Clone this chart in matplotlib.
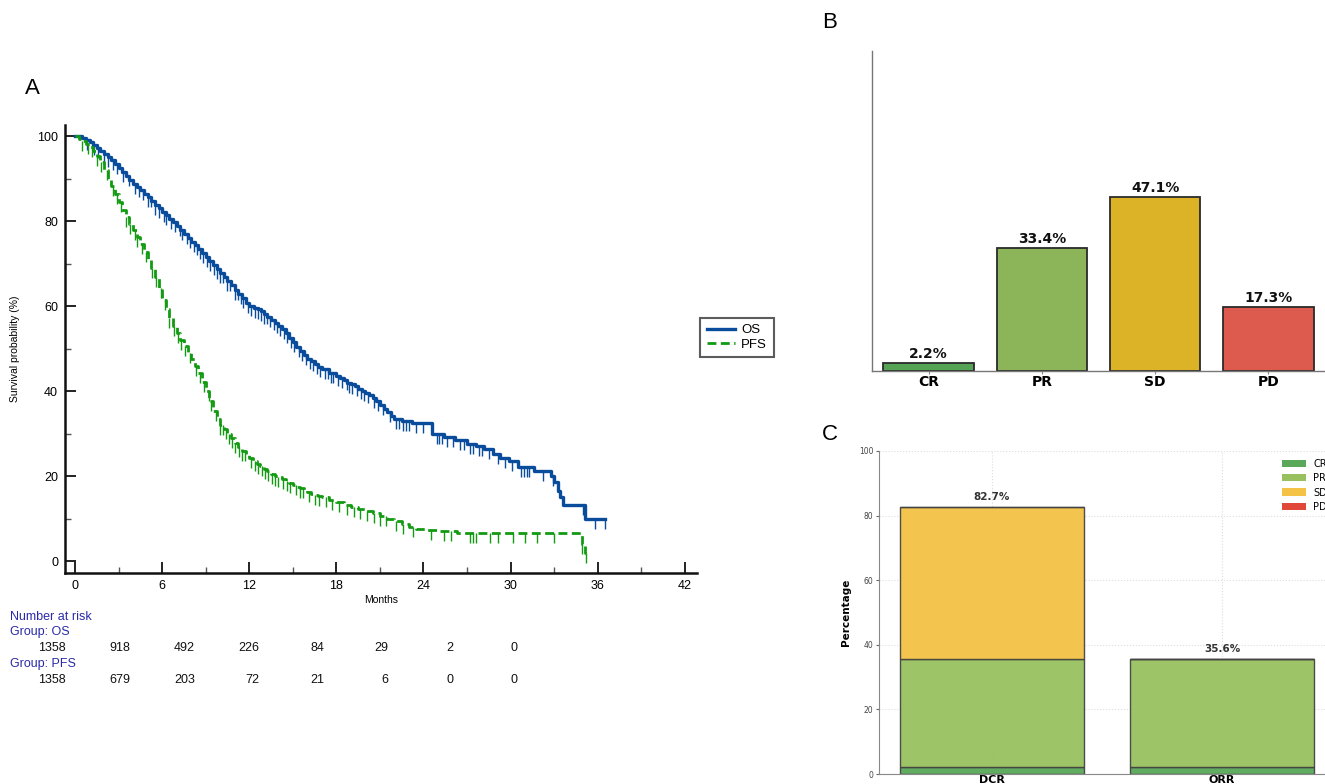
import numpy as np
import matplotlib
matplotlib.use("Agg")
import matplotlib.pyplot as plt
from matplotlib.patches import Patch

# ---- panel A: Kaplan-Meier curves ----
OS_TIME = [0, 0.25, 0.5, 0.75, 1.0, 1.25, 1.5, 1.75, 2.0, 2.25, 2.5, 2.75,
           3.0, 3.25, 3.5, 3.75, 4.0, 4.25, 4.5, 4.75, 5.0, 5.25, 5.5, 5.75,
           6.0, 6.25, 6.5, 6.75, 7.0, 7.25, 7.5, 7.75, 8.0, 8.25, 8.5, 8.75,
           9.0, 9.25, 9.5, 9.75, 10.0, 10.25, 10.5, 10.75, 11.0, 11.25, 11.5,
           11.75, 12.0, 12.3, 12.6, 12.8, 13.0, 13.25, 13.5, 13.75, 14.0,
           14.25, 14.5, 14.75, 15.0, 15.25, 15.5, 15.75, 16.0, 16.25, 16.5,
           16.75, 17.0, 17.5, 18.0, 18.25, 18.5, 18.75, 19.0, 19.25, 19.5,
           19.75, 20.0, 20.25, 20.5, 20.75, 21.0, 21.25, 21.5, 21.75, 22.0,
           22.5, 23.2, 24.6, 25.4, 26.2, 27.0, 27.6, 28.2, 28.8, 29.3, 29.9,
           30.5, 31.6, 32.8, 33.0, 33.3, 33.4, 33.6, 35.1, 36.5]
OS_SURV = [100, 99.9, 99.6, 99.1, 98.5, 97.9, 97.2, 96.5, 95.8, 95.1, 94.3,
           93.5, 92.6, 91.5, 90.5, 89.6, 88.8, 88.0, 87.2, 86.4, 85.6, 84.7,
           83.8, 83.0, 82.2, 81.4, 80.5, 79.7, 78.8, 77.8, 76.9, 76.0, 75.1,
           74.3, 73.5, 72.6, 71.6, 70.6, 69.6, 68.7, 67.8, 66.9, 66.0, 64.9,
           63.8, 62.8, 61.8, 60.8, 60.0, 59.6, 59.3, 58.8, 58.2, 57.5, 56.8,
           56.1, 55.4, 54.5, 53.6, 52.6, 51.5, 50.4, 49.4, 48.5, 47.6, 47.0,
           46.4, 45.7, 45.1, 44.2, 43.5, 43.0, 42.5, 42.0, 41.6, 41.1, 40.6,
           40.1, 39.6, 39.0, 38.3, 37.6, 36.8, 35.9, 35.0, 34.2, 33.5, 33.0,
           32.4, 29.8, 29.2, 28.5, 27.6, 27.0, 26.3, 25.2, 24.3, 23.5, 22.2,
           21.3, 20.0, 18.5, 16.5, 15.0, 13.2, 10.0, 10.0]
OS_CENSOR = [0.8, 1.3, 1.6, 2.0, 2.3, 2.6, 2.9, 3.3, 3.7, 4.1, 4.4, 4.7, 5.0,
             5.2, 5.5, 5.8, 6.1, 6.3, 6.6, 6.9, 7.2, 7.4, 7.7, 7.9, 8.2, 8.4,
             8.6, 8.8, 9.1, 9.3, 9.6, 9.8, 10.0, 10.2, 10.5, 10.7, 11.0, 11.2,
             11.4, 11.6, 11.9, 12.1, 12.4, 12.6, 12.8, 13.0, 13.2, 13.4, 13.7,
             13.9, 14.1, 14.4, 14.6, 14.9, 15.1, 15.4, 15.6, 15.9, 16.2, 16.4,
             16.7, 16.9, 17.2, 17.4, 17.6, 17.8, 18.1, 18.4, 18.7, 18.9, 19.1,
             19.4, 19.7, 19.9, 20.2, 20.6, 20.9, 21.2, 21.7, 22.1, 22.3, 22.6,
             22.8, 23.0, 23.5, 24.0, 24.9, 25.1, 25.3, 25.6, 26.0, 26.5, 26.8,
             27.2, 27.4, 27.8, 28.0, 28.5, 29.1, 29.6, 30.1, 30.7, 30.9, 31.1,
             31.3, 32.2, 32.9, 35.0, 35.8, 36.5]

PFS_TIME = [0, 0.25, 0.5, 0.75, 1.0, 1.25, 1.5, 1.75, 2.0, 2.25, 2.5, 2.75,
            3.0, 3.25, 3.5, 3.75, 4.0, 4.25, 4.5, 4.75, 5.0, 5.25, 5.5, 5.75,
            6.0, 6.25, 6.5, 6.75, 7.0, 7.25, 7.5, 7.75, 8.0, 8.25, 8.5, 8.75,
            9.0, 9.25, 9.5, 9.75, 10.0, 10.25, 10.5, 10.75, 11.0, 11.25, 11.5,
            11.75, 12.0, 12.25, 12.5, 12.75, 13.0, 13.25, 13.5, 13.75, 14.0,
            14.25, 14.5, 14.75, 15.0, 15.25, 15.5, 15.75, 16.0, 16.25, 16.5,
            16.75, 17.0, 17.5, 18.0, 18.5, 19.0, 19.5, 20.0, 20.5, 21.0, 21.5,
            22.0, 22.5, 23.0, 23.5, 24.2, 25.0, 26.3, 34.9, 35.1, 35.2]
PFS_SURV = [100, 99.4, 98.8, 98.2, 97.5, 96.5, 95.2, 93.8, 92.0, 90.0, 88.2,
            86.3, 84.5, 82.7, 81.0, 79.4, 77.8, 76.2, 74.5, 72.8, 71.0, 69.0,
            66.8, 64.2, 61.5, 59.2, 57.2, 55.3, 53.6, 52.0, 50.5, 49.0, 47.5,
            45.9, 44.2, 42.2, 40.0, 37.6, 35.3, 33.4, 32.0, 31.0, 30.0, 28.9,
            27.8, 26.8, 25.8, 25.0, 24.2, 23.5, 22.9, 22.3, 21.7, 21.1, 20.6,
            20.1, 19.7, 19.3, 18.9, 18.4, 18.0, 17.5, 17.1, 16.7, 16.3, 15.9,
            15.6, 15.3, 15.0, 14.4, 13.8, 13.2, 12.7, 12.3, 11.9, 11.3, 10.6,
            10.0, 9.4, 8.7, 8.0, 7.6, 7.2, 7.0, 6.6, 4.0, 2.0, 2.0]
PFS_CENSOR = [0.5, 0.9, 1.2, 1.5, 1.8, 2.2, 2.6, 2.9, 3.2, 3.5, 3.8, 4.1, 4.3,
              4.6, 4.9, 5.3, 5.6, 5.9, 6.2, 6.5, 6.8, 7.1, 7.3, 7.6, 7.9, 8.3,
              8.6, 8.9, 9.2, 9.4, 9.7, 10.0, 10.2, 10.4, 10.6, 10.8, 11.0,
              11.3, 11.5, 11.7, 12.1, 12.4, 12.6, 12.9, 13.1, 13.3, 13.6, 13.8,
              14.0, 14.3, 14.6, 14.8, 15.2, 15.5, 15.7, 16.1, 16.5, 16.8, 17.3,
              17.7, 18.2, 18.7, 19.2, 19.6, 20.1, 20.6, 21.0, 21.4, 22.1, 22.6,
              23.3, 24.5, 25.4, 25.9, 27.2, 27.4, 27.6, 28.6, 29.1, 30.2, 31.0,
              31.8, 33.0, 34.9, 35.2]

RISK_TIMES = [0, 6, 12, 18, 24, 30, 36, 42]
RISK_OS = [1358, 918, 492, 226, 84, 29, 2, 0]
RISK_PFS = [1358, 679, 203, 72, 21, 6, 0, 0]

# ---- panel B: best response ----
RESP_CATS = ["CR", "PR", "SD", "PD"]
RESP_PCT = [2.2, 33.4, 47.1, 17.3]
RESP_COLORS = ["#55a455", "#8cb55a", "#dcb227", "#dd5a4e"]

# ---- panel C: DCR / ORR stacked ----
RATE_CATS = ["DCR", "ORR"]
RATE_CR = [2.2, 2.2]
RATE_PR = [33.4, 33.4]
RATE_SD = [47.1, 0.0]
RATE_PD = [0.0, 0.0]
STACK_COLORS = ["#5aa85a", "#98c15e", "#f4c244", "#e0483a"]

OS_COLOR = "#0a4c9c"
PFS_COLOR = "#139a13"
RISK_BLUE = "#2a2aa8"

W, H = 1325, 784


def step_value(times, surv, t):
    idx = np.searchsorted(times, t, side="right") - 1
    return np.asarray(surv)[idx]


fig = plt.figure(figsize=(W / 100, H / 100), dpi=100)

# ------------------------------------------------------------ panel A
axA = fig.add_axes([65 / W, 1 - 573 / H, 632 / W, 448 / H])
for times, surv, cens, color, ls, lw, lab in [
    (OS_TIME, OS_SURV, OS_CENSOR, OS_COLOR, "-", 2.4, "OS"),
    (PFS_TIME, PFS_SURV, PFS_CENSOR, PFS_COLOR, (0, (3.2, 1.6)), 2.0, "PFS"),
]:
    axA.plot(times, surv, drawstyle="steps-post", color=color, lw=lw,
             linestyle=ls, label=lab)
    axA.plot(cens, step_value(times, surv, cens), linestyle="none",
             marker=3, markersize=7, markeredgewidth=1.0, color=color)

axA.set_xlim(-0.69, 42.84)
axA.set_ylim(-2.8, 102.6)
axA.set_xticks(RISK_TIMES)
axA.set_xticks(np.arange(3, 42, 6), minor=True)
axA.set_yticks(np.arange(0, 101, 20))
axA.set_yticks(np.arange(10, 100, 20), minor=True)
axA.tick_params(which="major", direction="in", length=8, width=1.4,
                labelsize=9, pad=5, color="#222222")
axA.tick_params(which="minor", direction="in", length=4, width=1.0,
                color="#555555")
for s in ["top", "right"]:
    axA.spines[s].set_visible(False)
for s in ["left", "bottom"]:
    axA.spines[s].set_linewidth(1.8)
    axA.spines[s].set_color("#111111")
for lbl in axA.get_xticklabels() + axA.get_yticklabels():
    lbl.set_fontfamily("Liberation Sans")
axA.set_xlabel("Months", fontsize=7.5, family="Liberation Sans", labelpad=2)
axA.set_ylabel("Survival probability (%)", fontsize=7.5,
               family="Liberation Sans", labelpad=12)
legA = axA.legend(loc="upper left", bbox_to_anchor=(0.995, 0.585),
                  prop={"family": "Liberation Sans", "size": 9.5},
                  frameon=True, fancybox=False, handlelength=2.1,
                  borderpad=0.5, labelspacing=0.15, handletextpad=0.5)
legA.get_frame().set_edgecolor("#333333")
legA.get_frame().set_linewidth(1.5)

fig.text(25 / W, 1 - 88 / H, "A", fontsize=16, ha="left", va="center",
         family="Liberation Sans")

# number at risk table
txt = dict(fontsize=9, family="Liberation Sans", va="center")
fig.text(10 / W, 1 - 617 / H, "Number at risk", color=RISK_BLUE, **txt)
fig.text(10 / W, 1 - 632 / H, "Group: OS", color=RISK_BLUE, **txt)
fig.text(10 / W, 1 - 664 / H, "Group: PFS", color=RISK_BLUE, **txt)
for i, (a, b) in enumerate(zip(RISK_OS, RISK_PFS)):
    x = (66 + 64.5 * i) / W
    fig.text(x, 1 - 648 / H, str(a), ha="right", color="#111111", **txt)
    fig.text(x, 1 - 680 / H, str(b), ha="right", color="#111111", **txt)

# ------------------------------------------------------------ panel B
axB = fig.add_axes([872 / W, 1 - 371 / H, (W - 872) / W, 320 / H])
xb = np.arange(len(RESP_CATS))
axB.bar(xb, RESP_PCT, width=0.8, color=RESP_COLORS,
        edgecolor="#2a2a2a", linewidth=1.3)
for x, v in zip(xb, RESP_PCT):
    axB.text(x, v + 0.6, f"{v}%", ha="center", va="bottom", fontsize=10,
             fontweight="bold", color="#111111")
axB.set_xlim(-0.5, 3.5)
axB.set_ylim(0, 86.7)
axB.set_xticks(xb)
axB.set_xticklabels(RESP_CATS, fontsize=10, fontweight="bold")
axB.set_yticks([])
axB.tick_params(axis="x", length=2, pad=1, color="#888888")
for s in ["top", "right"]:
    axB.spines[s].set_visible(False)
for s in ["left", "bottom"]:
    axB.spines[s].set_color("#777777")
    axB.spines[s].set_linewidth(1.0)
fig.text(822 / W, 1 - 22 / H, "B", fontsize=16, ha="left", va="center",
         family="Liberation Sans")

# ------------------------------------------------------------ panel C
axC = fig.add_axes([879 / W, 1 - 774 / H, 456 / W, 323 / H])
xc = np.arange(len(RATE_CATS))
bottom = np.zeros(len(RATE_CATS))
for vals, col, lab in zip([RATE_CR, RATE_PR, RATE_SD, RATE_PD],
                          STACK_COLORS, RESP_CATS):
    axC.bar(xc, vals, width=0.8, bottom=bottom, color=col, alpha=0.95,
            edgecolor="#444444", linewidth=1.0, label=lab)
    bottom = bottom + np.array(vals)
for x, tot in zip(xc, bottom):
    axC.text(x, tot + 1.5, f"{tot:.1f}%", ha="center", va="bottom",
             fontsize=7.5, fontweight="bold", color="#333333")
axC.set_xlim(-0.49, 1.49)
axC.set_ylim(0, 100)
axC.set_xticks(xc)
axC.set_xticklabels(RATE_CATS, fontsize=8, fontweight="bold")
axC.set_yticks(np.arange(0, 101, 20))
axC.tick_params(axis="y", labelsize=5.5, length=2, pad=2,
                labelcolor="#444444", color="#666666")
axC.tick_params(axis="x", length=0, pad=1)
axC.set_ylabel("Percentage", fontsize=7.5, fontweight="bold", labelpad=6)
axC.grid(True, color="#dddddd", linestyle=":", linewidth=0.8)
axC.set_axisbelow(True)
for s in ["top", "right"]:
    axC.spines[s].set_visible(False)
for s in ["left", "bottom"]:
    axC.spines[s].set_color("#888888")
axC.legend(handles=[Patch(facecolor=c, label=l)
                    for c, l in zip(STACK_COLORS, RESP_CATS)],
           loc="upper right", fontsize=7, frameon=False,
           handlelength=2.4, handleheight=0.8, labelspacing=0.45,
           borderaxespad=0.4, bbox_to_anchor=(1.0, 1.0))
fig.text(822 / W, 1 - 435 / H, "C", fontsize=16, ha="left", va="center",
         family="Liberation Sans")

fig.savefig("out.png", dpi=100)
